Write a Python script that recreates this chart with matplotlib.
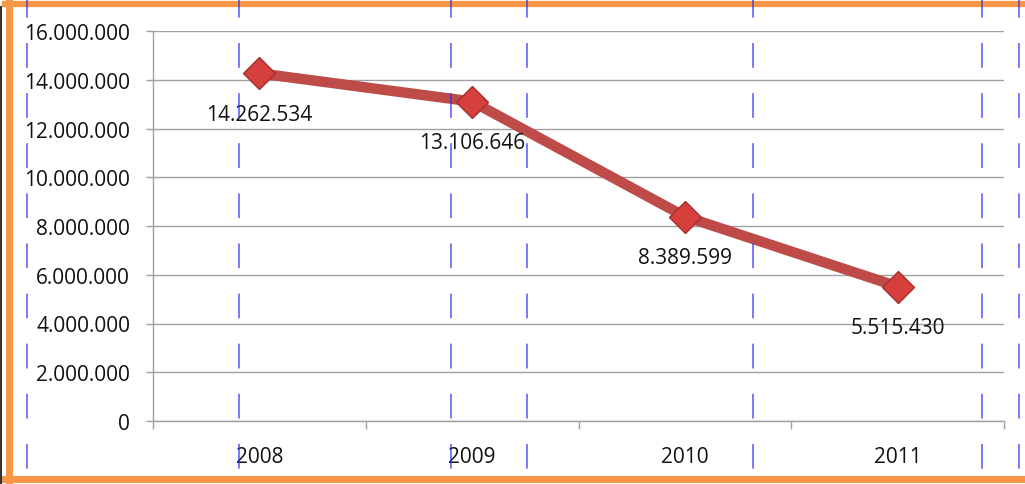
import matplotlib
matplotlib.use("Agg")
import matplotlib.pyplot as plt
from matplotlib.lines import Line2D

# ── Data ───────────────────────────────────────────────────────────────────
years = ["2008", "2009", "2010", "2011"]
values = [14262534, 13106646, 8389599, 5515430]
y_ticks = [0, 2000000, 4000000, 6000000, 8000000, 10000000, 12000000, 14000000, 16000000]

# stray blue dashed guides seen on the picture (figure pixels)
guide_x = [27, 239, 451, 527, 753, 982, 1019]

W, H = 1025, 485


def dotted(v):
    return f"{v:,}".replace(",", ".")


plt.rcParams["font.family"] = ["Open Sans", "DejaVu Sans"]
FS = 15
TXT = "#111111"

fig = plt.figure(figsize=(W / 100, H / 100), dpi=100)
ax = fig.add_axes([153 / W, 1 - 422 / H, (1004 - 153) / W, (422 - 32) / H])

x = list(range(len(years)))
ax.plot(x, values, color="#be4b48", lw=7.5, solid_capstyle="butt", zorder=3)
ax.plot(x, values, ls="none", marker="D", ms=16.5, mfc="#d5403d", mec="#a5302d",
        mew=1, zorder=4)

for xi, v in zip(x, values):
    ax.annotate(dotted(v), (xi, v), xytext=(0, -29.5), textcoords="offset points",
                ha="center", va="center", fontsize=FS, color=TXT, zorder=5)

ax.set_xlim(-0.5, len(years) - 0.5)
ax.set_ylim(0, 16000000)

ax.set_yticks(y_ticks)
ax.set_yticklabels([dotted(t) for t in y_ticks], fontsize=FS, color=TXT)
ax.tick_params(axis="y", length=5, width=1, color="#a0a0a0", pad=11.5)
ax.yaxis.grid(True, color="#a0a0a0", lw=1)
ax.set_axisbelow(True)

ax.set_xticks(x)
ax.set_xticklabels(years, fontsize=FS, color=TXT)
ax.tick_params(axis="x", which="major", length=0, pad=18)
ax.set_xticks([i - 0.5 for i in range(len(years) + 1)], minor=True)
ax.tick_params(axis="x", which="minor", length=6, width=1, color="#a0a0a0")

for side in ("top", "right"):
    ax.spines[side].set_visible(False)
for side in ("left", "bottom"):
    ax.spines[side].set_color("#a0a0a0")
    ax.spines[side].set_linewidth(1)

# ── Frame and guides ───────────────────────────────────────────────────────
orange = "#f79646"
fig.add_artist(Line2D([5 / W, 1], [1 - 5 / H, 1 - 5 / H], color=orange, lw=4.5,
                      transform=fig.transFigure))
fig.add_artist(Line2D([5 / W, 1], [1 - 480 / H, 1 - 480 / H], color=orange, lw=5,
                      transform=fig.transFigure))
fig.add_artist(Line2D([8.5 / W, 8.5 / W], [0, 1 - 3 / H], color=orange, lw=5,
                      transform=fig.transFigure))
fig.add_artist(Line2D([1 / W, 1 / W], [0, 1 - 8 / H], color="#333333", lw=1.5,
                      transform=fig.transFigure))

for gx in guide_x:
    fig.add_artist(Line2D([gx / W, gx / W], [1, 0], color="#2a2aff", lw=1.1,
                          alpha=0.8, ls=(4, (16.2, 16.6)), transform=fig.transFigure,
                          zorder=10))

fig.savefig("out.png", dpi=100)
